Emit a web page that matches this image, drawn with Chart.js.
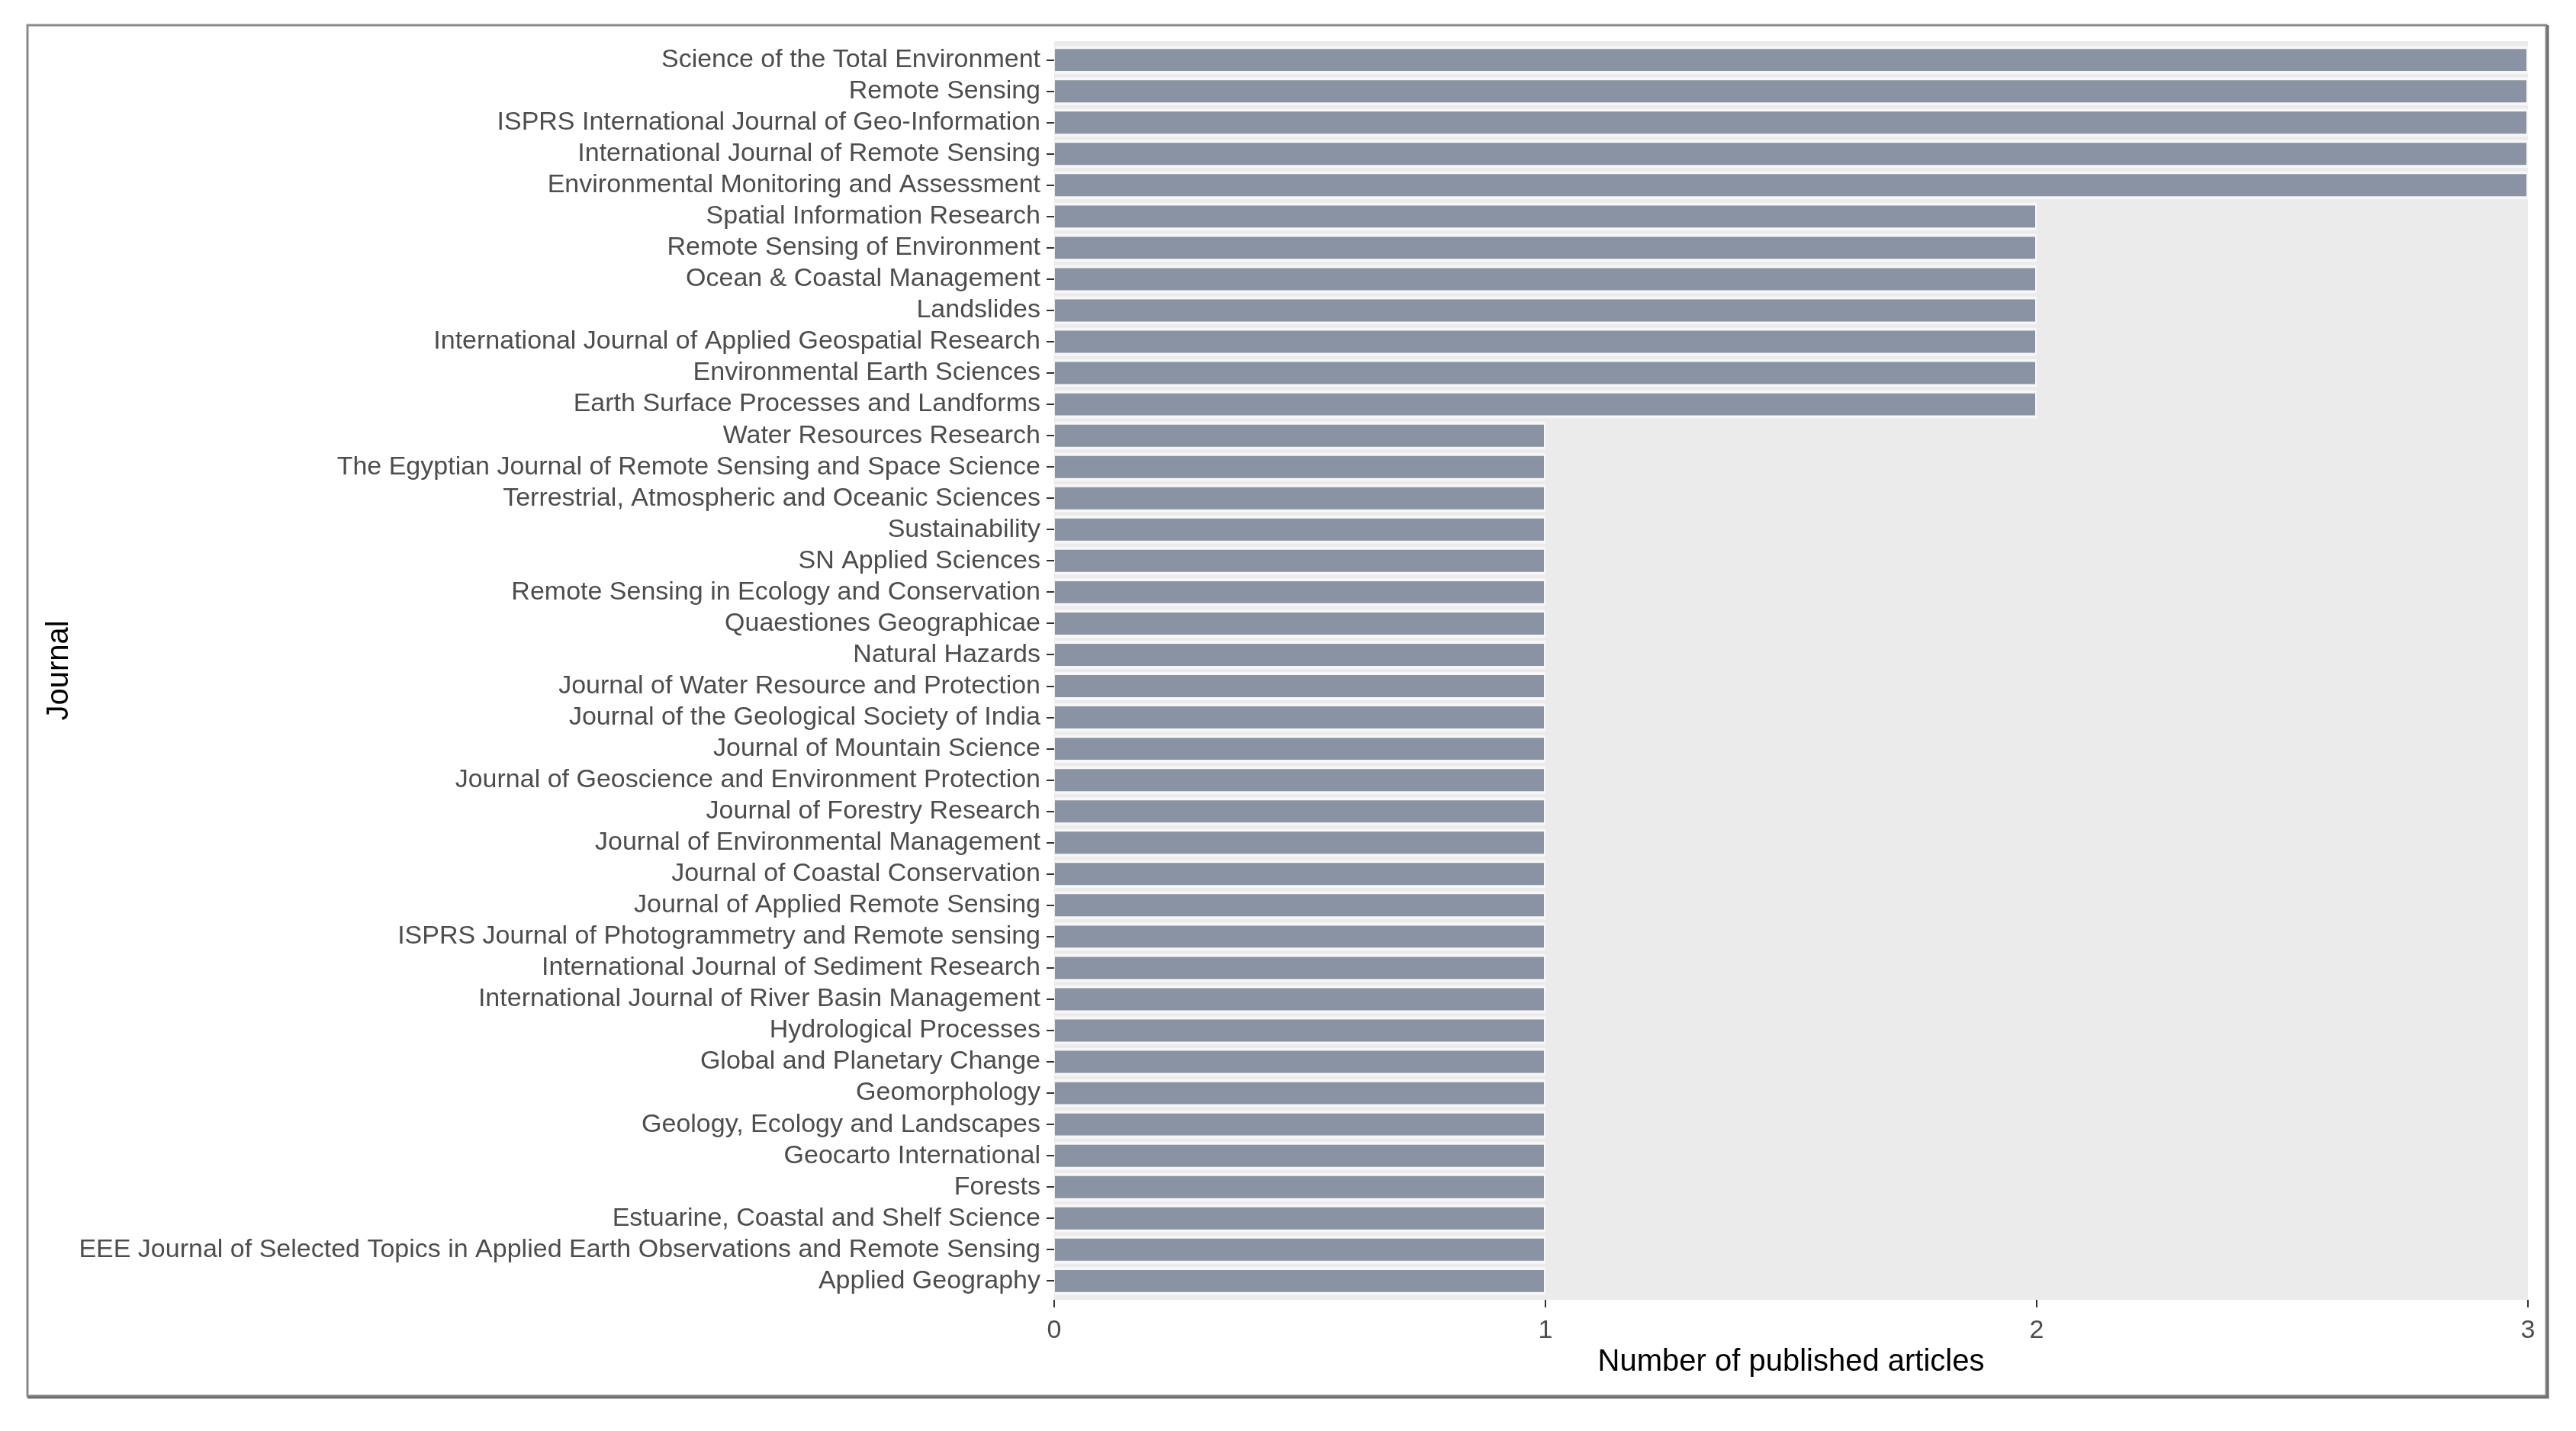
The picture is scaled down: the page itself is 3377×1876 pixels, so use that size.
<!DOCTYPE html>
<html>
<head>
<meta charset="utf-8">
<script src="https://cdn.jsdelivr.net/npm/chart.js@4.4.1/dist/chart.umd.min.js"></script>
<style>
    html, body { margin: 0; padding: 0; background: #ffffff; }
    #grafico { display: block; }
</style>
</head>
<body>
<canvas id="grafico" width="3377" height="1876"></canvas>
<script>
const journals = [
    'Science of the Total Environment',
    'Remote Sensing',
    'ISPRS International Journal of Geo-Information',
    'International Journal of Remote Sensing',
    'Environmental Monitoring and Assessment',
    'Spatial Information Research',
    'Remote Sensing of Environment',
    'Ocean & Coastal Management',
    'Landslides',
    'International Journal of Applied Geospatial Research',
    'Environmental Earth Sciences',
    'Earth Surface Processes and Landforms',
    'Water Resources Research',
    'The Egyptian Journal of Remote Sensing and Space Science',
    'Terrestrial, Atmospheric and Oceanic Sciences',
    'Sustainability',
    'SN Applied Sciences',
    'Remote Sensing in Ecology and Conservation',
    'Quaestiones Geographicae',
    'Natural Hazards',
    'Journal of Water Resource and Protection',
    'Journal of the Geological Society of India',
    'Journal of Mountain Science',
    'Journal of Geoscience and Environment Protection',
    'Journal of Forestry Research',
    'Journal of Environmental Management',
    'Journal of Coastal Conservation',
    'Journal of Applied Remote Sensing',
    'ISPRS Journal of Photogrammetry and Remote sensing',
    'International Journal of Sediment Research',
    'International Journal of River Basin Management',
    'Hydrological Processes',
    'Global and Planetary Change',
    'Geomorphology',
    'Geology, Ecology and Landscapes',
    'Geocarto International',
    'Forests',
    'Estuarine, Coastal and Shelf Science',
    'EEE Journal of Selected Topics in Applied Earth Observations and Remote Sensing',
    'Applied Geography'
];

const articles = [
    3, 3, 3, 3, 3,
    2, 2, 2, 2, 2, 2, 2,
    1, 1, 1, 1, 1, 1, 1, 1, 1, 1, 1, 1, 1, 1, 1, 1, 1, 1, 1, 1, 1, 1, 1, 1, 1, 1, 1, 1
];

const xTicks = [0, 1, 2, 3];

// moldura cinza + fundo do painel
const fundoPlugin = {
    id: 'fundo',
    beforeDraw(chart) {
        const ctx = chart.ctx;
        const area = chart.chartArea;
        ctx.save();
        ctx.fillStyle = '#ffffff';
        ctx.fillRect(0, 0, chart.width, chart.height);
        ctx.strokeStyle = '#8a8a8a';
        ctx.lineWidth = 3;
        ctx.strokeRect(36, 33, 3302, 1797);
        ctx.strokeStyle = '#6e6e6e';
        ctx.lineWidth = 3;
        ctx.beginPath();
        ctx.moveTo(3340, 33);
        ctx.lineTo(3340, 1832);
        ctx.lineTo(36, 1832);
        ctx.stroke();
        ctx.fillStyle = '#ebebeb';
        ctx.fillRect(area.left, area.top, area.right - area.left, area.bottom - area.top);
        ctx.restore();
    }
};

function gerarGrafico() {
    const ctx = document.getElementById('grafico').getContext('2d');

    new Chart(ctx, {
        type: 'bar',
        data: {
            datasets: [{
                data: articles.map((v, i) => ({ x: v, y: i })),
                backgroundColor: '#8993a3',
                borderColor: '#f7f7f7',
                borderWidth: { top: 4, bottom: 4, right: 2, left: 0 },
                borderSkipped: false,
                barPercentage: 0.9,
                categoryPercentage: 1
            }]
        },
        plugins: [fundoPlugin],
        options: {
            indexAxis: 'y',
            responsive: false,
            animation: false,
            devicePixelRatio: 1,
            layout: { padding: { top: 54, right: 63, bottom: 0, left: 0 } },
            plugins: {
                legend: { display: false },
                tooltip: { enabled: false }
            },
            scales: {
                x: {
                    type: 'linear',
                    min: 0,
                    max: 3,
                    offset: false,
                    afterBuildTicks: s => { s.ticks = xTicks.map(v => ({ value: v })); },
                    afterFit: s => { s.height = 172; },
                    grid: { offset: false, drawOnChartArea: false, drawTicks: true, tickLength: 10, color: '#333333', lineWidth: 2 },
                    border: { display: false },
                    ticks: {
                        color: '#4d4d4d',
                        padding: 10,
                        font: { family: 'Liberation Sans, Arial, sans-serif', size: 34 }
                    },
                    title: {
                        display: true,
                        text: 'Number of published articles',
                        color: '#000000',
                        padding: { top: 0, bottom: 66 },
                        font: { family: 'Liberation Sans, Arial, sans-serif', size: 40 }
                    }
                },
                y: {
                    type: 'linear',
                    reverse: true,
                    offset: false,
                    min: -0.6,
                    max: journals.length - 0.4,
                    afterBuildTicks: s => { s.ticks = journals.map((j, i) => ({ value: i })); },
                    afterFit: s => { s.width = 1382; },
                    grid: { offset: false, drawOnChartArea: false, drawTicks: true, tickLength: 10, color: '#333333', lineWidth: 2 },
                    border: { display: false },
                    ticks: {
                        autoSkip: false,
                        color: '#4d4d4d',
                        padding: 8,
                        font: { family: 'Liberation Sans, Arial, sans-serif', size: 34 },
                        callback: v => journals[v]
                    },
                    title: {
                        display: true,
                        text: 'Journal',
                        color: '#000000',
                        padding: { top: 54, bottom: 0 },
                        font: { family: 'Liberation Sans, Arial, sans-serif', size: 40 }
                    }
                }
            }
        }
    });
}

document.addEventListener('DOMContentLoaded', function() {
    gerarGrafico();
});
</script>
</body>
</html>
